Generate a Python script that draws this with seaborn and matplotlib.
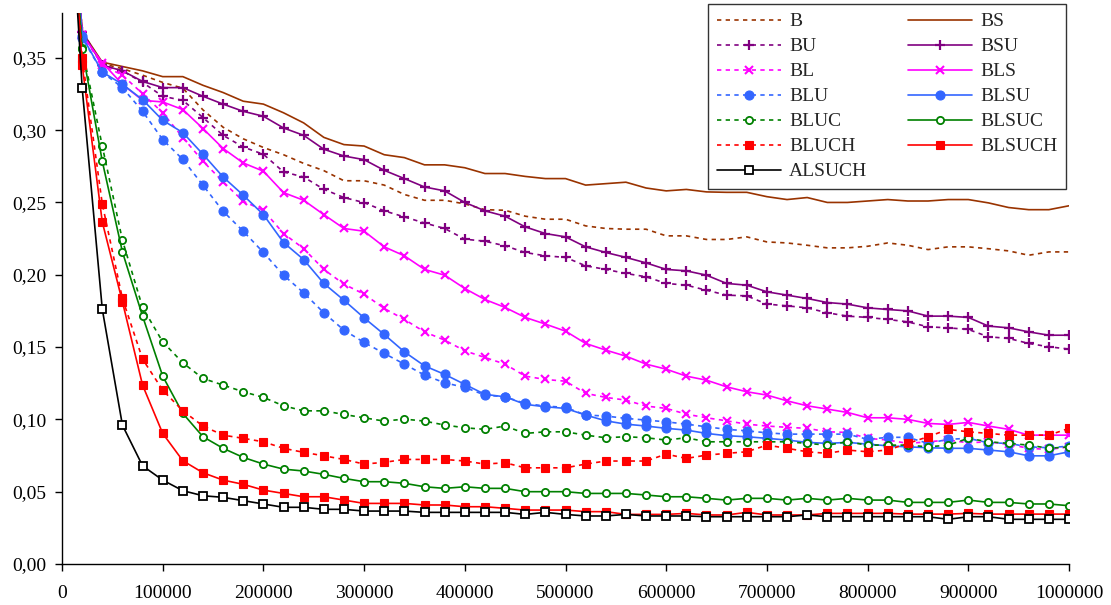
import matplotlib
matplotlib.use("Agg")
import matplotlib.pyplot as plt
import matplotlib.ticker as mticker
import seaborn as sns
import pandas as pd

# ---------------- data ----------------
x_values = list(range(0, 1000001, 20000))
start = 0.56

B = [start, 0.368, 0.346, 0.3425, 0.338, 0.333, 0.329, 0.314, 0.302, 0.294, 0.288, 0.283, 0.277, 0.272, 0.265,
     0.265, 0.262, 0.2555, 0.2515, 0.2515, 0.249, 0.245, 0.2446, 0.2405, 0.2384, 0.2384, 0.2338, 0.232, 0.2315,
     0.2315, 0.2269, 0.2269, 0.2244, 0.2244, 0.2262, 0.2227, 0.222, 0.2204, 0.2186, 0.2186, 0.2197, 0.222, 0.2204,
     0.2174, 0.2193, 0.2193, 0.218, 0.2165, 0.2135, 0.2158, 0.2158]
BS = [start, 0.368, 0.347, 0.344, 0.341, 0.337, 0.337, 0.331, 0.326, 0.320, 0.318, 0.312, 0.305, 0.295, 0.290,
      0.289, 0.283, 0.281, 0.276, 0.276, 0.274, 0.270, 0.270, 0.268, 0.2665, 0.2665, 0.262, 0.263, 0.264, 0.260,
      0.258, 0.259, 0.2573, 0.257, 0.257, 0.254, 0.252, 0.2534, 0.250, 0.250, 0.251, 0.252, 0.251, 0.251, 0.252,
      0.252, 0.2497, 0.2465, 0.245, 0.245, 0.2477]
BU = [start, 0.368, 0.345, 0.341, 0.333, 0.3234, 0.3206, 0.3087, 0.2964, 0.2883, 0.2833, 0.2711, 0.2676, 0.2591,
      0.2534, 0.2499, 0.2442, 0.240, 0.2358, 0.232, 0.2246, 0.2232, 0.220, 0.2154, 0.2131, 0.212, 0.2062, 0.2037,
      0.2009, 0.1986, 0.194, 0.1928, 0.1893, 0.1859, 0.1854, 0.1797, 0.1785, 0.1771, 0.1737, 0.1714, 0.1705,
      0.1691, 0.1674, 0.164, 0.1633, 0.1622, 0.1571, 0.156, 0.1525, 0.1502, 0.1486]
BSU = [start, 0.368, 0.345, 0.341, 0.3337, 0.3294, 0.3294, 0.3234, 0.318, 0.313, 0.3096, 0.3015, 0.2964, 0.2868,
       0.2821, 0.2796, 0.2722, 0.2665, 0.2607, 0.258, 0.250, 0.2442, 0.2405, 0.2331, 0.2285, 0.2262, 0.2193,
       0.2154, 0.212, 0.2082, 0.2037, 0.2027, 0.1997, 0.194, 0.1928, 0.1882, 0.1859, 0.1836, 0.1808, 0.1797,
       0.1771, 0.176, 0.175, 0.1714, 0.1714, 0.1705, 0.1645, 0.1633, 0.1605, 0.1582, 0.1582]
BL = [start, 0.366, 0.345, 0.338, 0.3252, 0.312, 0.2949, 0.2785, 0.2642, 0.2508, 0.2446, 0.2285, 0.2181, 0.2037,
      0.1935, 0.1866, 0.1767, 0.1691, 0.1605, 0.1548, 0.1474, 0.1428, 0.1382, 0.1299, 0.1276, 0.1264, 0.118,
      0.1152, 0.1133, 0.1092, 0.1076, 0.1036, 0.1011, 0.099, 0.0967, 0.0954, 0.0945, 0.0938, 0.0914, 0.091,
      0.0869, 0.0857, 0.0834, 0.0845, 0.0857, 0.0838, 0.0845, 0.0827, 0.080, 0.0792, 0.081]
BLS = [start, 0.366, 0.3467, 0.3317, 0.3206, 0.3195, 0.3142, 0.3011, 0.2873, 0.2773, 0.2716, 0.2568, 0.2515,
       0.2416, 0.232, 0.2301, 0.2193, 0.2131, 0.2037, 0.1997, 0.1905, 0.1829, 0.1774, 0.1705, 0.1659, 0.161,
       0.1525, 0.1479, 0.1437, 0.1382, 0.1347, 0.1299, 0.1271, 0.1225, 0.1191, 0.1168, 0.1128, 0.1094, 0.1071,
       0.1048, 0.1011, 0.1011, 0.100, 0.0972, 0.0965, 0.0979, 0.0954, 0.0931, 0.0891, 0.0891, 0.0891]
BLU = [start, 0.364, 0.340, 0.3294, 0.313, 0.2935, 0.2797, 0.2619, 0.2439, 0.2301, 0.2154, 0.1997, 0.1875,
       0.1737, 0.1617, 0.1532, 0.1456, 0.1382, 0.1306, 0.1253, 0.1221, 0.1168, 0.1156, 0.111, 0.1092, 0.1083,
       0.103, 0.1023, 0.1007, 0.0995, 0.0983, 0.0967, 0.0949, 0.0931, 0.0921, 0.0907, 0.0898, 0.0898, 0.0898,
       0.0898, 0.0862, 0.0876, 0.0876, 0.0834, 0.0862, 0.0869, 0.0838, 0.0834, 0.081, 0.0804, 0.0815]
BLSU = [start, 0.3649, 0.3402, 0.3317, 0.3211, 0.3068, 0.2983, 0.2833, 0.2676, 0.255, 0.2416, 0.2223, 0.2105,
        0.194, 0.1824, 0.1702, 0.1587, 0.1467, 0.137, 0.1311, 0.1242, 0.1173, 0.1156, 0.1104, 0.1087, 0.1076,
        0.103, 0.099, 0.0967, 0.0954, 0.0938, 0.0926, 0.0903, 0.0887, 0.088, 0.0869, 0.0857, 0.0841, 0.0834,
        0.0841, 0.0829, 0.0817, 0.081, 0.0804, 0.080, 0.080, 0.0788, 0.0776, 0.0748, 0.0748, 0.0776]
BLUC = [start, 0.3568, 0.289, 0.2239, 0.1774, 0.1536, 0.1391, 0.1283, 0.1237, 0.1191, 0.1152, 0.1094, 0.1059,
        0.1059, 0.1034, 0.1011, 0.0988, 0.1002, 0.0988, 0.0961, 0.0942, 0.0931, 0.0954, 0.0903, 0.0914, 0.0914,
        0.0891, 0.0873, 0.088, 0.0873, 0.0857, 0.0873, 0.0845, 0.0845, 0.0845, 0.0845, 0.0845, 0.0834, 0.0822,
        0.0845, 0.0822, 0.0822, 0.0822, 0.081, 0.0822, 0.0869, 0.0845, 0.0834, 0.0822, 0.080, 0.081]
BLSUC = [start, 0.356, 0.2785, 0.2158, 0.1714, 0.1299, 0.1041, 0.088, 0.080, 0.0737, 0.0691, 0.0656, 0.0643,
         0.062, 0.0592, 0.0569, 0.0569, 0.0558, 0.0534, 0.0523, 0.0534, 0.0523, 0.0523, 0.050, 0.050, 0.050,
         0.0488, 0.0488, 0.0488, 0.0477, 0.0465, 0.0465, 0.0454, 0.0442, 0.0454, 0.0454, 0.0442, 0.0454, 0.0442,
         0.0454, 0.0442, 0.0442, 0.0426, 0.0426, 0.0426, 0.0442, 0.0426, 0.0426, 0.0415, 0.0415, 0.0403]
BLUCH = [start, 0.350, 0.249, 0.1836, 0.1417, 0.1202, 0.1059, 0.0954, 0.0891, 0.0869, 0.0845, 0.080, 0.0772,
         0.0748, 0.0723, 0.0691, 0.0703, 0.0723, 0.0723, 0.0723, 0.0712, 0.0691, 0.070, 0.0665, 0.0665, 0.0665,
         0.0691, 0.0712, 0.0712, 0.0712, 0.076, 0.073, 0.0753, 0.0765, 0.0776, 0.0822, 0.080, 0.0776, 0.0765,
         0.0788, 0.0776, 0.0788, 0.0834, 0.088, 0.0931, 0.0914, 0.0903, 0.0891, 0.0891, 0.0891, 0.0938]
BLSUCH = [start, 0.345, 0.2365, 0.1813, 0.1237, 0.0903, 0.0714, 0.0631, 0.058, 0.0551, 0.0511, 0.0488, 0.0465,
          0.0465, 0.0442, 0.0419, 0.0419, 0.0419, 0.0408, 0.0408, 0.0396, 0.0396, 0.0385, 0.0373, 0.0373, 0.0373,
          0.0362, 0.0362, 0.0343, 0.0343, 0.0343, 0.035, 0.0339, 0.0339, 0.0357, 0.0339, 0.0339, 0.0339, 0.035,
          0.035, 0.035, 0.035, 0.0345, 0.0345, 0.0345, 0.035, 0.0345, 0.0345, 0.0345, 0.0345, 0.0345]
ALSUCH = [start, 0.3294, 0.1762, 0.096, 0.0679, 0.058, 0.0507, 0.0472, 0.0461, 0.0438, 0.0415, 0.0392, 0.0392,
          0.0378, 0.0378, 0.0366, 0.0366, 0.0366, 0.0357, 0.0357, 0.0357, 0.0357, 0.0357, 0.0343, 0.0357, 0.0343,
          0.0332, 0.0332, 0.0343, 0.0332, 0.0332, 0.0332, 0.0327, 0.0327, 0.0327, 0.0327, 0.0327, 0.0339, 0.0327,
          0.0327, 0.0327, 0.0327, 0.0327, 0.0327, 0.0309, 0.0327, 0.0327, 0.0309, 0.0309, 0.0309, 0.0309]

series_names = ["B", "BS", "BU", "BSU", "BL", "BLS", "BLU", "BLSU", "BLUC", "BLSUC", "BLUCH", "BLSUCH", "ALSUCH"]
series_values = [B, BS, BU, BSU, BL, BLS, BLU, BLSU, BLUC, BLSUC, BLUCH, BLSUCH, ALSUCH]
legend_order = ["B", "BU", "BL", "BLU", "BLUC", "BLUCH", "ALSUCH", "BS", "BSU", "BLS", "BLSU", "BLSUC", "BLSUCH"]
y_ticks = [0.00, 0.05, 0.10, 0.15, 0.20, 0.25, 0.30, 0.35]
x_ticks = [0, 100000, 200000, 300000, 400000, 500000, 600000, 700000, 800000, 900000, 1000000]

# ---------------- styles ----------------
brown, purple, magenta, blue, green, red = "#993300", "#800080", "#FF00FF", "#3366FF", "#008000", "#FF0000"
dash = (0, (2.6, 2.6))
styles = {
    "B":      dict(color=brown,   ls=dash, marker=None),
    "BS":     dict(color=brown,   ls="-",  marker=None),
    "BU":     dict(color=purple,  ls=dash, marker="+", ms=7, mfc=purple, mew=1.6),
    "BSU":    dict(color=purple,  ls="-",  marker="+", ms=7, mfc=purple, mew=1.6),
    "BL":     dict(color=magenta, ls=dash, marker="x", ms=5.5, mfc=magenta, mew=1.5),
    "BLS":    dict(color=magenta, ls="-",  marker="x", ms=5.5, mfc=magenta, mew=1.5),
    "BLU":    dict(color=blue,    ls=dash, marker="o", ms=6.5, mfc=blue, mew=0.8),
    "BLSU":   dict(color=blue,    ls="-",  marker="o", ms=6.5, mfc=blue, mew=0.8),
    "BLUC":   dict(color=green,   ls=dash, marker="o", ms=5.2, mfc="white", mew=1.3),
    "BLSUC":  dict(color=green,   ls="-",  marker="o", ms=5.2, mfc="white", mew=1.3),
    "BLUCH":  dict(color=red,     ls=dash, marker="s", ms=6.2, mfc=red, mew=0.8),
    "BLSUCH": dict(color=red,     ls="-",  marker="s", ms=6.2, mfc=red, mew=0.8),
    "ALSUCH": dict(color="black", ls="-",  marker="s", ms=5.2, mfc="white", mew=1.3),
}

sns.set_style("ticks")
plt.rcParams["font.family"] = ["Liberation Serif", "DejaVu Serif"]

fig = plt.figure(figsize=(11.11, 6.05), dpi=100)
ax = fig.add_axes([62 / 1111, 1 - 564 / 605, (1069 - 62) / 1111, (564 - 13) / 605])

handles = {}
for name, vals in zip(series_names, series_values):
    st = styles[name]
    df = pd.DataFrame({"x": x_values, "y": vals})
    kw = dict(color=st["color"], linestyle=st["ls"], linewidth=1.2)
    if st["marker"] is not None:
        kw.update(marker=st["marker"], markersize=st["ms"], markerfacecolor=st["mfc"],
                  markeredgecolor=st["color"], markeredgewidth=st["mew"])
    sns.lineplot(data=df, x="x", y="y", ax=ax, label=name, errorbar=None, legend=False, **kw)
    handles[name] = ax.lines[-1]

ax.set_xlim(0, 1000000)
ax.set_ylim(0, 0.381)
ax.set_xticks(x_ticks)
ax.set_yticks(y_ticks)
ax.xaxis.set_major_formatter(mticker.FuncFormatter(lambda v, p: f"{int(round(v))}"))
ax.yaxis.set_major_formatter(mticker.FuncFormatter(lambda v, p: f"{v:.2f}".replace(".", ",")))
ax.set_xlabel("")
ax.set_ylabel("")
for s in ["top", "right"]:
    ax.spines[s].set_visible(False)
for s in ["left", "bottom"]:
    ax.spines[s].set_color("black")
    ax.spines[s].set_linewidth(1.0)
ax.tick_params(axis="both", direction="out", length=5, width=1, colors="black", labelsize=14, pad=6)
ax.tick_params(axis="x", pad=10)

leg = fig.legend([handles[n] for n in legend_order], legend_order, ncol=2,
                 loc="upper right", bbox_to_anchor=(1066 / 1111, 1 - 4 / 605),
                 frameon=True, fancybox=False, shadow=False, fontsize=14,
                 handlelength=3.3, handletextpad=0.4, columnspacing=2.1,
                 labelspacing=0.38, borderpad=0.45, borderaxespad=0.0)
leg.get_frame().set_edgecolor("black")
leg.get_frame().set_linewidth(1.0)

fig.savefig("out.png", dpi=100)
